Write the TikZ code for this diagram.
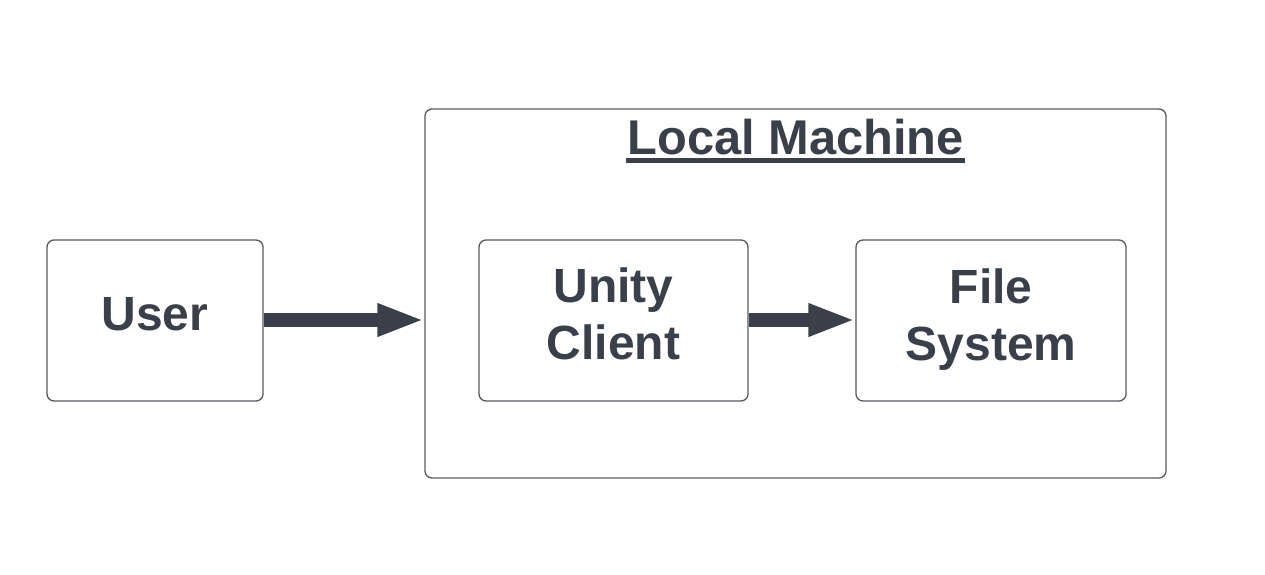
\documentclass[tikz,border=0pt]{standalone}
\usepackage{fontspec}
\setmainfont{Liberation Sans}
\usetikzlibrary{arrows.meta}
\definecolor{txt}{RGB}{58,64,74}
\definecolor{bord}{RGB}{85,90,98}
\tikzset{
  box/.style={draw=bord, line width=1.3pt, rounded corners=7pt, inner sep=0pt},
  lbl/.style={anchor=base, inner sep=0pt, text=txt, font=\fontsize{48}{56}\selectfont\bfseries},
  fat/.style={draw=txt, line width=14pt, -{Triangle[length=47pt,width=30pt,fill=txt]}}
}
\begin{document}
\begin{tikzpicture}[x=1pt,y=-1pt]
\useasboundingbox (0,0) rectangle (1265,574);
\fill[white] (0,0) rectangle (1265,574);
\node[box, minimum width=741pt, minimum height=369pt] (local) at (795.5,293.5) {};
\node[box, minimum width=216pt, minimum height=161pt] (user) at (155,320.5) {};
\node[box, minimum width=269pt, minimum height=161pt] (unity) at (613.5,320.5) {};
\node[box, minimum width=270pt, minimum height=161pt] (fs) at (991,320.5) {};
\node[lbl] (usert) at (155,330) {User};
\node[lbl] (unity1) at (613.5,302.5) {Unity};
\node[lbl] (unity2) at (613.5,359) {Client};
\node[lbl] (fs1) at (991,303) {File};
\node[lbl] (fs2) at (991,360) {System};
\node[lbl, font=\fontsize{48.8}{56}\selectfont\bfseries] (title) at (795.5,154) {Local Machine};
\draw[txt, line width=4.5pt] ([xshift=-1pt,yshift=-6.5pt]title.base west) -- ([xshift=1pt,yshift=-6.5pt]title.base east);
\draw[fat] (user.east |- 0,320) -- (local.west |- 0,320);
\draw[fat] (unity.east |- 0,320) -- (fs.west |- 0,320);
\end{tikzpicture}
\end{document}
